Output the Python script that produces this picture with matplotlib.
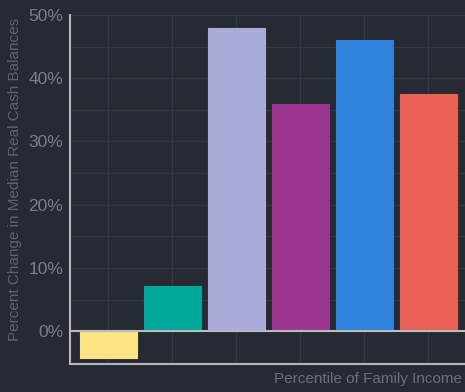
import numpy as np
import matplotlib.pyplot as plt
from matplotlib.ticker import FuncFormatter, MultipleLocator

plt.rcParams['font.family'] = ['Liberation Sans', 'DejaVu Sans']

# Cambio porcentual del saldo mediano por percentil de ingreso
groups = ['<20', '20-39.9', '40-59.9', '60-79.9', '80-89.9', '90-100']
change = [-4.2, 7.1, 48.0, 36.0, 46.0, 37.5]
colors = ['#fde384', '#00a89b', '#a9acd9', '#9b3590', '#2f82dc', '#ec6155']

bg = '#262a33'
fig = plt.figure(figsize=(4.65, 3.92), dpi=100, facecolor=bg)
W, H = 465, 392
left, right, top, bottom = 70, 480, 15, 364
ax = fig.add_axes([left / W, 1 - bottom / H, (right - left) / W, (bottom - top) / H])
ax.set_facecolor(bg)

x = np.arange(len(groups))
ax.bar(x, change, width=0.89, color=colors, edgecolor=colors, linewidth=0.8, zorder=3)
ax.axhline(0, color='#b9bbbf', linewidth=1.5, zorder=4)

ax.set_xlim(-0.6, -0.6 + (right - left) / 64)
ax.set_ylim(-5.2, 50)
ax.yaxis.set_major_locator(MultipleLocator(10))
ax.yaxis.set_minor_locator(MultipleLocator(5))
ax.yaxis.set_major_formatter(FuncFormatter(lambda v, p: f'{v:.0f}%'))
ax.set_xticks(x)
ax.set_xticklabels([])

ax.grid(True, which='both', axis='y', color='#343944', linewidth=0.9, zorder=0)
ax.grid(True, which='major', axis='x', color='#343944', linewidth=0.9, zorder=0)
ax.tick_params(which='both', length=0, pad=5)
ax.tick_params(axis='y', labelsize=12.5, labelcolor='#7c7f86')

for s in ['top', 'right']:
    ax.spines[s].set_visible(False)
for s in ['left', 'bottom']:
    ax.spines[s].set_color('#b4b6ba')
    ax.spines[s].set_linewidth(1.5)

ax.set_ylabel('Percent Change in Median Real Cash Balances', fontsize=11,
              color='#5f636b')
ax.yaxis.set_label_coords(-0.118, (364 - 179) / (364 - 15))
ax.set_xlabel('Percentile of Family Income', fontsize=11, color='#6b6f77')
ax.xaxis.set_label_coords((368 - left) / (right - left), -0.024)

fig.savefig('out.png', dpi=100, facecolor=bg)
